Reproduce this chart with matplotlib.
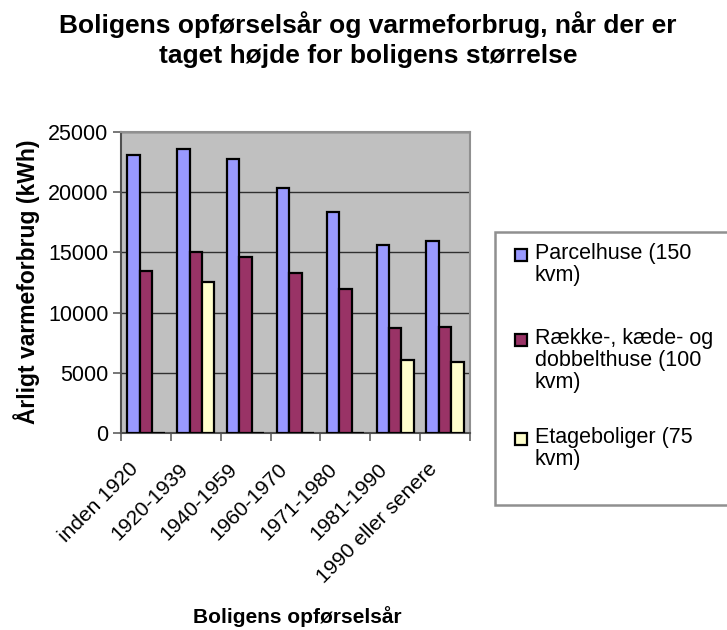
import matplotlib
matplotlib.use("Agg")
import matplotlib.pyplot as plt
import matplotlib.patches as patch
from matplotlib.transforms import ScaledTranslation, blended_transform_factory
import numpy as np

plt.rcParams['font.family'] = ['Liberation Sans', 'DejaVu Sans']

# data
periods = ['inden 1920', '1920-1939', '1940-1959', '1960-1970',
           '1971-1980', '1981-1990', '1990 eller senere']
parcel = [23100, 23600, 22750, 20380, 18330, 15590, 15970]
raekke = [13430, 15030, 14590, 13260, 11930, 8720, 8830]
etage = [0, 12570, 0, 0, 0, 6060, 5900]
labels = ['Parcelhuse (150\nkvm)',
          'Række-, kæde- og\ndobbelthuse (100\nkvm)',
          'Etageboliger (75\nkvm)']
colors = ['#9999FF', '#993366', '#FFFFCC']

W, H = 727, 630
fig = plt.figure(figsize=(W / 100, H / 100), dpi=100)
# plot area in pixels: left 121, right 470, top 132, bottom 433
ax = fig.add_axes([121 / W, 1 - 433 / H, (470 - 121) / W, (433 - 132) / H])

x = np.arange(len(periods))
w = 0.25
series = [parcel, raekke, etage]
for k, (vals, c) in enumerate(zip(series, colors)):
    ax.bar(x + (k - 1) * w, vals, w, color=c, edgecolor='black',
           linewidth=1.6, zorder=3)

ax.set_facecolor('#C0C0C0')
ax.set_xlim(-0.5, len(periods) - 0.5)
ax.set_ylim(0, 25000)
ax.set_yticks(range(0, 25001, 5000))
ax.yaxis.grid(True, color='#303030', linewidth=1, zorder=0)
ax.set_xticks(np.arange(-0.5, len(periods), 1))
ax.set_xticklabels([])
ax.tick_params(axis='x', which='major', length=6, direction='out',
               color='#606060', width=1.2)
ax.tick_params(axis='y', labelsize=15.5, length=6, pad=3, color='#606060',
               width=1.2)

# rotated category labels, shifted a little left like in the original
trans = blended_transform_factory(ax.transData, ax.transAxes) + \
    ScaledTranslation(-11 / 100, -33 / 100, fig.dpi_scale_trans)
for i, p in enumerate(periods):
    ax.text(x[i], 0, p, transform=trans, rotation=45, ha='right',
            va='center', rotation_mode='anchor', fontsize=15)

for s in ['top', 'right']:
    ax.spines[s].set_color('#909090')
    ax.spines[s].set_linewidth(1.5)
for s in ['left', 'bottom']:
    ax.spines[s].set_color('#505050')
    ax.spines[s].set_linewidth(1.5)

fig.text(27 / W, 1 - 282 / H, 'Årligt varmeforbrug (kWh)', rotation=90,
         ha='center', va='center', fontsize=16.5, fontweight='bold')
fig.text(297 / W, 1 - 617 / H, 'Boligens opførselsår', ha='center',
         va='center', fontsize=15, fontweight='bold')

fig.text(0.506, 1 - 11 / H, 'Boligens opførselsår og varmeforbrug, når der er\n'
         'taget højde for boligens størrelse', ha='center', va='top',
         fontsize=19, fontweight='bold', linespacing=1.32)

# legend box (runs off the right edge like the original)
fig.patches.append(patch.Rectangle((495 / W, 1 - 505 / H), 260 / W,
                                   (505 - 232) / H, transform=fig.transFigure,
                                   facecolor='white', edgecolor='#909090',
                                   linewidth=1.8, clip_on=False))
entry_top = [243, 328, 427]
for lab, c, yt in zip(labels, colors, entry_top):
    fig.patches.append(patch.Rectangle((515 / W, 1 - (yt + 18) / H), 12 / W,
                                       12 / H, transform=fig.transFigure,
                                       facecolor=c, edgecolor='black',
                                       linewidth=1.6))
    fig.text(535 / W, 1 - yt / H, lab, ha='left', va='top', fontsize=15.5,
             linespacing=1.05)

fig.savefig('out.png', dpi=100)
